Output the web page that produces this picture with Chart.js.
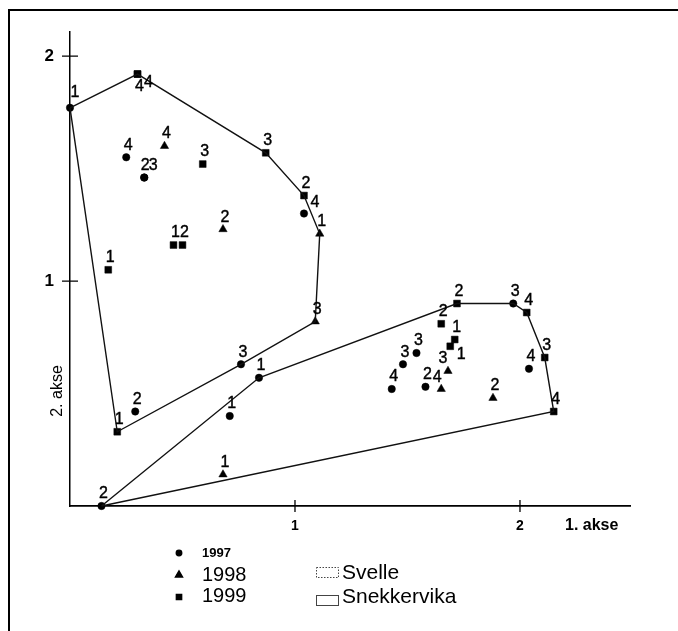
<!DOCTYPE html>
<html>
<head>
<meta charset="utf-8">
<script src="https://cdn.jsdelivr.net/npm/chart.js@4.4.1/dist/chart.umd.min.js"></script>
<style>
  html, body { margin: 0; padding: 0; background: #fff; }
  canvas { display: block; }
</style>
</head>
<body>
<canvas id="c" width="678" height="631"></canvas>
<script>
// Ordination scores (1. akse, 2. akse) with sample codes, one set per year
const x1997 = [0.00, 0.25, 0.33, 0.33, 1.04, 0.29, 0.76, 0.14, 0.71, 0.84, 1.97, 1.54, 1.48, 2.04, 1.43, 1.58];
const y1997 = [1.77, 1.55, 1.46, 1.46, 1.30, 0.42, 0.63, 0.00, 0.40, 0.57, 0.90, 0.68, 0.63, 0.61, 0.52, 0.53];
const codes1997 = ['1', '4', '2', '3', '4', '2', '3', '2', '1', '1', '3', '3', '3', '4', '4', '2'];

const x1998 = [0.42, 0.68, 1.11, 1.09, 0.68, 1.68, 1.65, 1.88];
const y1998 = [1.60, 1.23, 1.21, 0.82, 0.14, 0.60, 0.52, 0.48];
const codes1998 = ['4', '2', '1', '3', '1', '3', '4', '2'];

const x1999 = [0.30, 0.30, 0.59, 0.87, 1.04, 0.46, 0.50, 0.17, 0.21, 1.72, 2.03, 2.11, 2.15, 1.65, 1.71, 1.69];
const y1999 = [1.92, 1.92, 1.52, 1.57, 1.38, 1.16, 1.16, 1.05, 0.33, 0.90, 0.86, 0.66, 0.42, 0.81, 0.74, 0.71];
const codes1999 = ['4', '4', '3', '3', '2', '1', '2', '1', '1', '2', '4', '3', '4', '2', '1', '1'];

// Tick values on the two axes
const xTickValues = [1, 2];
const yTickValues = [1, 2];

// Site outlines, as [year, index] references into the series above
const svelleHull = [['1997', 0], ['1999', 0], ['1999', 3], ['1999', 4], ['1998', 2], ['1998', 3], ['1997', 6], ['1999', 8]];
const snekkervikaHull = [['1997', 7], ['1997', 9], ['1999', 9], ['1997', 10], ['1999', 10], ['1999', 11], ['1999', 12]];

const series = {
  '1997': { xs: x1997, ys: y1997, codes: codes1997 },
  '1998': { xs: x1998, ys: y1998, codes: codes1998 },
  '1999': { xs: x1999, ys: y1999, codes: codes1999 }
};

// Where each code label sits relative to its marker (pixels); default is just above
const defaultNudge = [2, -12];
const labelNudge = {
  '1997': { 0: [5, -15], 2: [1, -12], 3: [9, -12], 4: [11, -11] },
  '1998': { 5: [-5, -12], 6: [-4, -11] },
  '1999': { 0: [2, 13], 1: [11, 9], 15: [11, 8] }
};

const FONT = "'Liberation Sans', Arial, Helvetica, sans-serif";

function toPoints(year) {
  const s = series[year];
  return s.xs.map((x, i) => ({ x: x, y: s.ys[i] }));
}

function hullPoints(refs) {
  const pts = refs.map(([yr, i]) => ({ x: series[yr].xs[i], y: series[yr].ys[i] }));
  pts.push(pts[0]);
  return pts;
}

const outlineStyle = {
  showLine: true, pointRadius: 0, pointHoverRadius: 0,
  borderColor: '#111', borderWidth: 1.4, fill: false, tension: 0, clip: false
};

const markerStyle = {
  '1997': { pointStyle: 'circle', pointRadius: 3.7 },
  '1998': { pointStyle: 'triangle', pointRadius: 4.8 },
  '1999': { pointStyle: 'rect', pointRadius: 4.8 }
};

const datasets = [
  Object.assign({ label: 'Svelle', data: hullPoints(svelleHull) }, outlineStyle),
  Object.assign({ label: 'Snekkervika', data: hullPoints(snekkervikaHull) }, outlineStyle)
];
['1997', '1998', '1999'].forEach(yr => {
  datasets.push(Object.assign({
    label: yr,
    year: yr,
    data: toPoints(yr),
    showLine: false,
    backgroundColor: '#000',
    borderColor: '#000',
    borderWidth: 0.5,
    clip: false
  }, markerStyle[yr]));
});

// Page frame, axis crossing ticks, axis names, code labels and key
const decorations = {
  id: 'decorations',
  beforeDraw(chart) {
    const ctx = chart.ctx;
    ctx.save();
    ctx.fillStyle = '#fff';
    ctx.fillRect(0, 0, chart.width, chart.height);
    ctx.strokeStyle = '#000';
    ctx.lineWidth = 2;
    ctx.beginPath();
    ctx.moveTo(9, chart.height);
    ctx.lineTo(9, 10);
    ctx.lineTo(chart.width, 10);
    ctx.stroke();
    ctx.restore();
  },
  afterDatasetsDraw(chart) {
    const ctx = chart.ctx;
    ctx.save();
    ctx.fillStyle = '#000';
    ctx.strokeStyle = '#000';
    ctx.lineWidth = 0.4;
    ctx.font = '16px ' + FONT;
    ctx.textAlign = 'center';
    ctx.textBaseline = 'middle';
    chart.data.datasets.forEach((ds, di) => {
      if (!ds.year) return;
      const meta = chart.getDatasetMeta(di);
      const codes = series[ds.year].codes;
      const nudges = labelNudge[ds.year] || {};
      meta.data.forEach((el, i) => {
        const n = nudges[i] || defaultNudge;
        ctx.fillText(codes[i], el.x + n[0], el.y + n[1]);
        ctx.strokeText(codes[i], el.x + n[0], el.y + n[1]);
      });
    });
    ctx.restore();
  },
  afterDraw(chart) {
    const ctx = chart.ctx;
    const xs = chart.scales.x, ys = chart.scales.y;
    const area = chart.chartArea;
    ctx.save();
    ctx.strokeStyle = '#000';
    ctx.lineWidth = 1.3;
    ctx.beginPath();
    xTickValues.forEach(v => {
      const px = xs.getPixelForValue(v);
      ctx.moveTo(px, area.bottom - 6);
      ctx.lineTo(px, area.bottom + 6);
    });
    yTickValues.forEach(v => {
      const py = ys.getPixelForValue(v);
      ctx.moveTo(area.left - 8, py);
      ctx.lineTo(area.left + 8, py);
    });
    ctx.stroke();

    // axis names
    ctx.fillStyle = '#000';
    ctx.font = 'bold 16px ' + FONT;
    ctx.textAlign = 'left';
    ctx.textBaseline = 'alphabetic';
    ctx.fillText('1. akse', 565, 530);
    ctx.save();
    ctx.translate(62, 391);
    ctx.rotate(-Math.PI / 2);
    ctx.font = '16px ' + FONT;
    ctx.textAlign = 'center';
    ctx.fillText('2. akse', 0, 0);
    ctx.restore();

    // key: years
    const h = Chart.helpers;
    const markX = 179;
    const yearKey = [
      { yr: '1997', style: 'circle', r: 2.8, cy: 553, base: 557, size: 13 },
      { yr: '1998', style: 'triangle', r: 4.2, cy: 575, base: 581, size: 20 },
      { yr: '1999', style: 'rect', r: 3.8, cy: 597, base: 602, size: 20 }
    ];
    yearKey.forEach(k => {
      ctx.fillStyle = '#000';
      ctx.strokeStyle = '#000';
      h.drawPoint(ctx, { pointStyle: k.style, radius: k.r, borderWidth: 0.5 }, markX, k.cy);
      ctx.font = (k.size < 15 ? 'bold ' : '') + k.size + 'px ' + FONT;
      ctx.fillText(k.yr, 202, k.base);
    });

    // key: sites
    const siteKey = [
      { name: 'Svelle', top: 567, base: 579, dash: [1.5, 1.5] },
      { name: 'Snekkervika', top: 595, base: 603, dash: [] }
    ];
    siteKey.forEach(k => {
      ctx.setLineDash(k.dash);
      ctx.strokeStyle = '#444';
      ctx.lineWidth = 1;
      ctx.strokeRect(316.5, k.top + 0.5, 22, 10);
      ctx.setLineDash([]);
      ctx.fillStyle = '#000';
      ctx.font = '21px ' + FONT;
      ctx.fillText(k.name, 342, k.base);
    });
    ctx.restore();
  }
};

new Chart(document.getElementById('c'), {
  type: 'scatter',
  data: { datasets: datasets },
  options: {
    responsive: false,
    animation: false,
    events: [],
    layout: { padding: { left: 40, right: 48, top: 32, bottom: 85 } },
    plugins: { legend: { display: false }, tooltip: { enabled: false } },
    scales: {
      x: {
        type: 'linear', position: 'bottom', min: 0, max: 2.489,
        afterBuildTicks(s) { s.ticks = xTickValues.map(v => ({ value: v })); },
        afterFit(s) { s.height = 40; },
        grid: { display: false, drawTicks: false },
        border: { display: true, color: '#000', width: 1.8 },
        ticks: { padding: 12, color: '#000', font: { family: FONT, size: 14, weight: 'bold' }, maxRotation: 0 }
      },
      y: {
        type: 'linear', position: 'left', min: 0, max: 2.107,
        afterBuildTicks(s) { s.ticks = yTickValues.map(v => ({ value: v })); },
        afterFit(s) { s.width = 30; },
        grid: { display: false, drawTicks: false },
        border: { display: true, color: '#000', width: 1.5 },
        ticks: { padding: 16, color: '#000', font: { family: FONT, size: 17, weight: 'bold' } }
      }
    }
  },
  plugins: [decorations]
});
</script>
</body>
</html>
